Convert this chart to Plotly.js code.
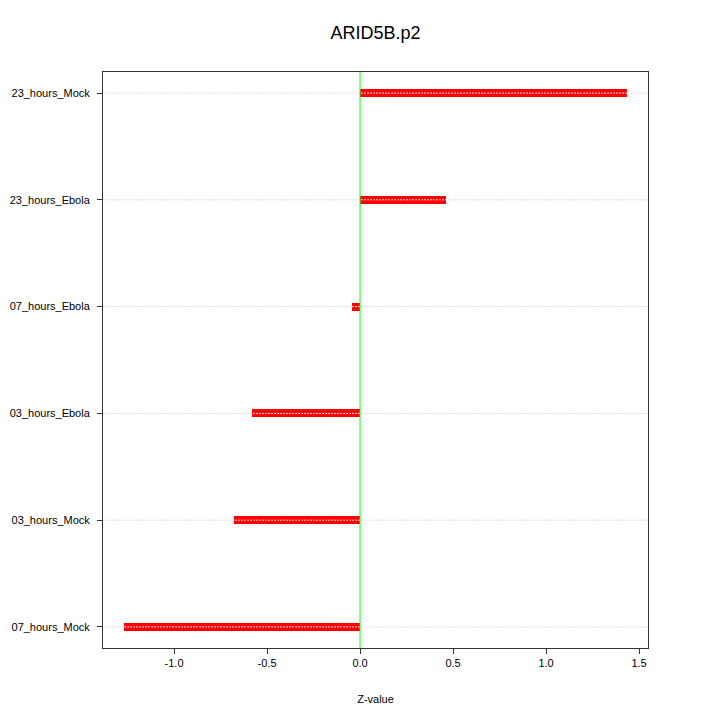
<!DOCTYPE html>
<html><head><meta charset="utf-8">
<script src="https://cdn.plot.ly/plotly-3.0.1.min.js"></script>
<style>html,body{margin:0;padding:0;background:#fff}#c{width:720px;height:720px}</style>
</head><body><div id="c"></div>
<script>
const categories = ["07_hours_Mock","03_hours_Mock","03_hours_Ebola","07_hours_Ebola","23_hours_Ebola","23_hours_Mock"];
const zValues = [-1.269, -0.677, -0.58, -0.043, 0.462, 1.435];
const xTicks = [-1.0, -0.5, 0.0, 0.5, 1.0, 1.5];
const xTickLabels = ["-1.0","-0.5","0.0","0.5","1.0","1.5"];

const trace = {
  type: 'bar', orientation: 'h',
  x: zValues, y: categories,
  width: 0.075,
  marker: {color: '#ff0000', line: {width: 0}},
  hoverinfo: 'x+y'
};
const shapes = categories.map(c => ({
  type: 'line', xref: 'paper', x0: 0, x1: 1, yref: 'y', y0: c, y1: c,
  line: {color: '#dddddd', width: 1, dash: '2px,1px'}, layer: 'above'
}));
shapes.push({type:'line', xref:'x', x0:0, x1:0, yref:'paper', y0:0, y1:1,
  line:{color:'#00ff00', width:1}, layer:'above'});

const layout = {
  width: 720, height: 720,
  margin: {l: 103, r: 72, t: 72, b: 72},
  paper_bgcolor: '#fff', plot_bgcolor: '#fff',
  font: {family: 'Liberation Sans, Arial, sans-serif', size: 11, color: '#000'},
  title: {text: 'ARID5B.p2', xref: 'paper', x: 0.5, xanchor: 'center', y: 0.955, yanchor: 'middle', font: {size: 18, color: '#000'}},
  showlegend: false,
  bargap: 0,
  xaxis: {
    range: [-1.382, 1.548], tickvals: xTicks, ticktext: xTickLabels,
    showgrid: false, zeroline: false, showline: true, mirror: true,
    linecolor: '#333', linewidth: 1, ticks: 'outside', ticklen: 5, tickcolor: '#333',
    tickfont: {size: 11},
    title: {text: 'Z-value', font: {size: 11}, standoff: 27}
  },
  yaxis: {
    type: 'category', categoryorder: 'array', categoryarray: categories,
    range: [-0.197, 5.197],
    showgrid: false, zeroline: false, showline: true, mirror: true,
    linecolor: '#333', linewidth: 1, ticks: 'outside', ticklen: 5, tickcolor: '#333',
    ticklabelstandoff: 5,
    tickfont: {size: 11}
  },
  shapes: shapes
};
Plotly.newPlot('c', [trace], layout, {displayModeBar: false, staticPlot: true});
</script></body></html>
